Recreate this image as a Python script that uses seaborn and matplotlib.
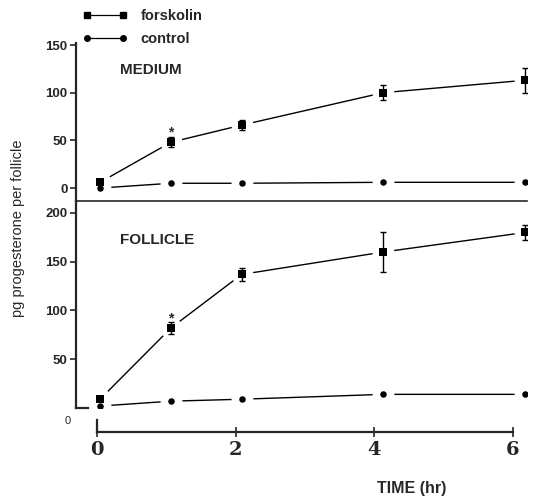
import numpy as np
import pandas as pd
import matplotlib
matplotlib.use("Agg")
import matplotlib.pyplot as plt
import seaborn as sns
from matplotlib.lines import Line2D

sns.set_style("white")
plt.rcParams['font.family'] = ['Liberation Sans', 'DejaVu Sans']

# ---- data ----
time_hr = [0, 1, 2, 4, 6]
medium_forskolin = [6, 48, 66, 100, 113]
medium_forskolin_err = [0, 5, 5, 8, 13]
medium_control = [0, 5, 5, 6, 6]
follicle_forskolin = [9, 82, 137, 160, 180]
follicle_forskolin_err = [0, 6, 7, 21, 8]
follicle_control = [2, 7, 9, 14, 14]
medium_yticks = [0, 50, 100, 150]
follicle_yticks = [50, 100, 150, 200]
x_ticks = [0, 2, 4, 6]
series_names = ["forskolin", "control"]
panel_names = ["MEDIUM", "FOLLICLE"]
ylabel = "pg progesterone per follicle"
xlabel = "TIME (hr)"

W, H = 534, 500
fig = plt.figure(figsize=(W / 100, H / 100), dpi=100)


def rect(l, t, r, b):
    return [l / W, 1 - b / H, (r - l) / W, (b - t) / H]


ax1 = fig.add_axes(rect(76, 43, 527, 201))
ax2 = fig.add_axes(rect(76, 201, 527, 408))
ax3 = fig.add_axes(rect(97, 420, 513, 432))

XLIM = (-0.34, 6.03)


def draw_panel(ax, forsk, ferr, ctrl, star_y):
    df = pd.DataFrame({
        "time": time_hr * 2,
        "value": forsk + ctrl,
        "series": ["forskolin"] * len(time_hr) + ["control"] * len(time_hr),
    })
    # connecting lines with white "gap" markers
    sns.lineplot(data=df, x="time", y="value", units="series", estimator=None,
                 color="black", linewidth=1.0, marker="o", markersize=15,
                 markerfacecolor="white", markeredgecolor="white", ax=ax,
                 legend=False, zorder=2)
    ax.errorbar(time_hr[1:], forsk[1:], yerr=ferr[1:], fmt='none', ecolor='black',
                elinewidth=1.0, capsize=2.5, capthick=1.0, zorder=4)
    sns.scatterplot(x=time_hr, y=forsk, marker='s', s=40, color='black',
                    edgecolor='black', linewidth=0, ax=ax, zorder=5)
    sns.scatterplot(x=time_hr, y=ctrl, marker='o', s=22, color='black',
                    edgecolor='black', linewidth=0, ax=ax, zorder=5)
    ax.text(time_hr[1], star_y, "*", ha='center', va='center', fontsize=10,
            fontweight='bold', zorder=6)
    ax.set_xlim(*XLIM)
    ax.set_xlabel("")
    ax.set_ylabel("")
    ax.set_xticks([])
    for s in ['top', 'right']:
        ax.spines[s].set_visible(False)
    ax.spines['left'].set_linewidth(1.6)
    ax.spines['bottom'].set_linewidth(1.2)
    ax.tick_params(axis='y', direction='out', length=4, width=1.2, pad=2,
                   left=True, labelsize=9.5)
    ax.patch.set_alpha(0)


draw_panel(ax1, medium_forskolin, medium_forskolin_err, medium_control,
           medium_forskolin[1] + 10)
ax1.set_ylim(-13.6, 152.1)
ax1.set_yticks(medium_yticks)
ax1.set_yticklabels([str(v) for v in medium_yticks], fontweight='bold')
ax1.text(0.098, 0.83, panel_names[0], transform=ax1.transAxes, fontsize=11,
         fontweight='bold', ha='left', va='center')

draw_panel(ax2, follicle_forskolin, follicle_forskolin_err, follicle_control,
           follicle_forskolin[1] + 10)
ax2.set_ylim(0, 212.3)
ax2.set_yticks(follicle_yticks)
ax2.set_yticklabels([str(v) for v in follicle_yticks], fontweight='bold')
ax2.spines['bottom'].set_bounds(XLIM[0], XLIM[0] + 0.17)
ax2.spines['bottom'].set_linewidth(1.6)
ax2.text(0.098, 0.81, panel_names[1], transform=ax2.transAxes, fontsize=11,
         fontweight='bold', ha='left', va='center')
ax2.annotate("0", xy=(0, 0), xycoords='axes fraction', xytext=(-6, -9),
             textcoords='offset points', ha='center', va='center', fontsize=8)

# separate x axis
ax3.set_xlim(0, 6)
ax3.set_ylim(0, 1)
ax3.set_yticks([])
ax3.set_xticks(x_ticks)
ax3.set_xticklabels([str(v) for v in x_ticks], family='DejaVu Serif',
                    fontweight='bold', fontsize=14)
ax3.tick_params(axis='x', direction='inout', length=7, width=1.2, pad=3,
                bottom=True)
for s in ['top', 'right']:
    ax3.spines[s].set_visible(False)
ax3.spines['bottom'].set_linewidth(1.6)
ax3.spines['left'].set_linewidth(1.6)
ax3.patch.set_alpha(0)

fig.text(412 / W, 1 - 488 / H, xlabel, ha='center', va='center', fontsize=11.5,
         fontweight='bold')
fig.text(18 / W, 1 - 228 / H, ylabel, rotation=90, ha='center', va='center',
         fontsize=10.5)

handles = [
    Line2D([0], [0], color='black', lw=0.9, marker='s', markersize=5),
    Line2D([0], [0], color='black', lw=0.9, marker='o', markersize=4),
]
fig.legend(handles, series_names, loc='upper left',
           bbox_to_anchor=(78 / W, 1 - 5 / H), frameon=False, numpoints=2,
           handlelength=3.1, handletextpad=0.9, labelspacing=0.6,
           prop={'size': 10.5, 'weight': 'bold'}, borderaxespad=0, borderpad=0.3)

fig.savefig("out.png", dpi=100)
